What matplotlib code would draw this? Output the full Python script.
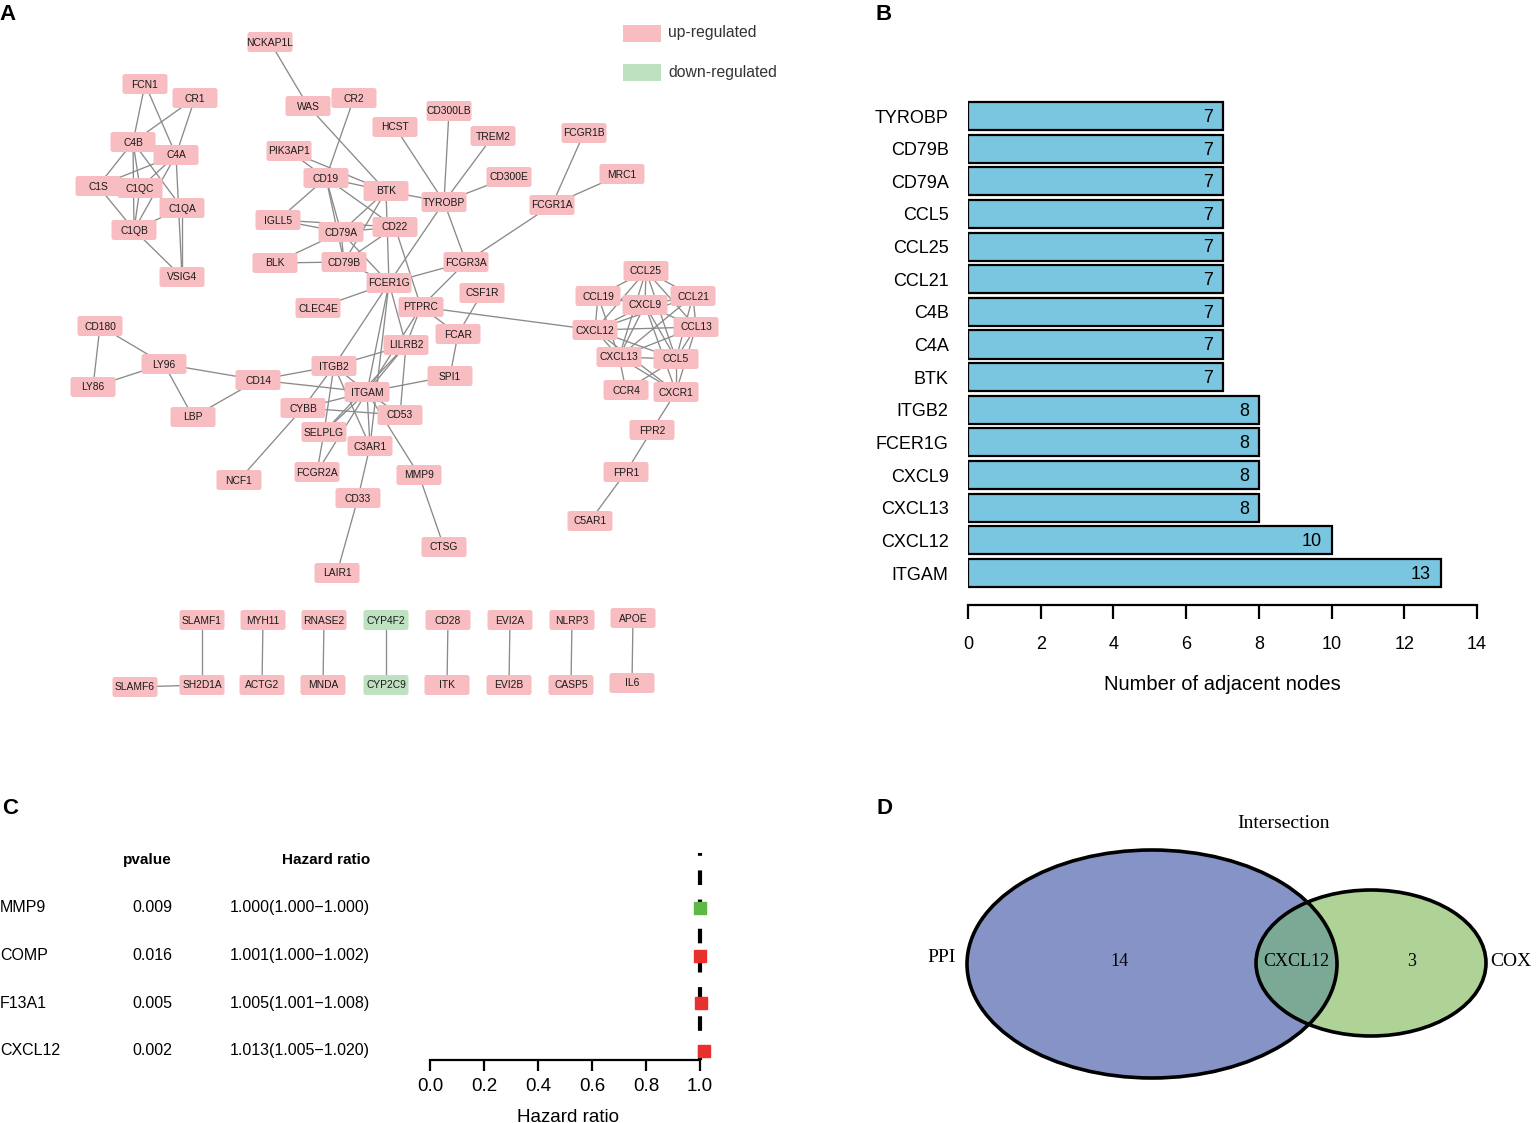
import matplotlib
matplotlib.use("Agg")
import matplotlib.pyplot as plt
import matplotlib.transforms as mtransforms
from matplotlib.patches import FancyBboxPatch, Ellipse, Rectangle
from matplotlib.collections import LineCollection

plt.rcParams['font.family'] = ['Liberation Sans', 'DejaVu Sans']

# ── Panel A: network (node centres, in pixels) ──
nodes = {
    'NCKAP1L': (270, 42), 'WAS': (308, 106), 'CR2': (354, 98),
    'FCN1': (145, 84), 'CR1': (195, 98), 'C4B': (133, 142), 'C4A': (176, 155),
    'C1S': (98, 186), 'C1QC': (140, 188), 'C1QA': (182, 208), 'C1QB': (134, 230),
    'VSIG4': (182, 277), 'HCST': (395, 127), 'CD300LB': (449, 111),
    'TREM2': (493, 136), 'PIK3AP1': (289, 151), 'CD19': (326, 178),
    'BTK': (386, 191), 'TYROBP': (444, 202), 'CD300E': (509, 177),
    'FCGR1B': (584, 133), 'MRC1': (622, 174), 'FCGR1A': (552, 205),
    'IGLL5': (278, 220), 'CD79A': (341, 232), 'CD22': (395, 227),
    'BLK': (275, 263), 'CD79B': (344, 262), 'FCGR3A': (466, 262),
    'FCER1G': (389, 283), 'CSF1R': (482, 293), 'CLEC4E': (318, 308),
    'PTPRC': (421, 307), 'FCAR': (458, 334), 'CD180': (100, 326),
    'LY96': (164, 364), 'LY86': (93, 387), 'LBP': (193, 417), 'CD14': (258, 380),
    'ITGB2': (334, 366), 'LILRB2': (406, 345), 'SPI1': (450, 376),
    'ITGAM': (367, 392), 'CYBB': (303, 408), 'CD53': (400, 415),
    'SELPLG': (324, 432), 'C3AR1': (370, 446), 'FCGR2A': (317, 472),
    'NCF1': (239, 480), 'MMP9': (419, 475), 'CD33': (358, 498),
    'CTSG': (444, 547), 'LAIR1': (337, 573),
    'CCL25': (646, 271), 'CCL19': (598, 296), 'CXCL9': (645, 305),
    'CCL21': (693, 296), 'CXCL12': (595, 330), 'CCL13': (696, 327),
    'CXCL13': (619, 357), 'CCL5': (676, 359), 'CCR4': (626, 390),
    'CXCR1': (676, 392), 'FPR2': (652, 430), 'FPR1': (626, 472),
    'C5AR1': (590, 521),
    'SLAMF1': (202, 620), 'SH2D1A': (202, 685), 'SLAMF6': (135, 687),
    'MYH11': (263, 620), 'ACTG2': (262, 685), 'RNASE2': (324, 620),
    'MNDA': (323, 685), 'CYP4F2': (386, 620), 'CYP2C9': (386, 685),
    'CD28': (448, 620), 'ITK': (447, 685), 'EVI2A': (510, 620),
    'EVI2B': (509, 685), 'NLRP3': (572, 620), 'CASP5': (571, 685),
    'APOE': (633, 618), 'IL6': (632, 683),
}
down_genes = ['CYP4F2', 'CYP2C9']

edges = [
    ('FCN1', 'C4B'), ('FCN1', 'C4A'), ('CR1', 'C4B'), ('CR1', 'C4A'),
    ('C4B', 'C1S'), ('C4B', 'C1QC'), ('C4B', 'C1QB'), ('C4B', 'C1QA'),
    ('C4A', 'C1S'), ('C4A', 'C1QC'), ('C4A', 'C1QB'), ('C4A', 'VSIG4'),
    ('C1S', 'C1QB'), ('C1QC', 'C1QA'), ('C1QC', 'C1QB'), ('C1QA', 'C1QB'),
    ('C1QB', 'VSIG4'), ('C1QA', 'VSIG4'),
    ('NCKAP1L', 'WAS'), ('WAS', 'BTK'), ('CR2', 'CD19'), ('PIK3AP1', 'CD19'),
    ('PIK3AP1', 'BTK'), ('CD19', 'BTK'), ('CD19', 'IGLL5'), ('CD19', 'CD79A'),
    ('CD19', 'CD79B'), ('CD19', 'CD22'), ('HCST', 'TYROBP'),
    ('CD300LB', 'TYROBP'), ('TREM2', 'TYROBP'), ('CD300E', 'TYROBP'),
    ('BTK', 'TYROBP'), ('BTK', 'CD79A'), ('BTK', 'CD79B'), ('BTK', 'FCER1G'),
    ('TYROBP', 'FCER1G'), ('TYROBP', 'FCGR3A'), ('FCGR1B', 'FCGR1A'),
    ('MRC1', 'FCGR1A'), ('FCGR1A', 'FCGR3A'), ('IGLL5', 'CD79A'),
    ('IGLL5', 'CD22'), ('BLK', 'CD79B'), ('BLK', 'CD79A'), ('CD79A', 'CD22'),
    ('CD79A', 'CD79B'), ('CD79B', 'CD22'), ('CD79A', 'FCER1G'),
    ('CD79B', 'FCER1G'), ('CD22', 'PTPRC'), ('FCGR3A', 'FCER1G'),
    ('FCGR3A', 'PTPRC'), ('CSF1R', 'FCAR'), ('CLEC4E', 'FCER1G'),
    ('PTPRC', 'CXCL12'), ('PTPRC', 'FCAR'), ('PTPRC', 'LILRB2'),
    ('PTPRC', 'ITGAM'), ('FCER1G', 'ITGB2'), ('FCER1G', 'ITGAM'),
    ('FCER1G', 'LILRB2'), ('FCER1G', 'C3AR1'), ('FCAR', 'SPI1'),
    ('LILRB2', 'ITGB2'), ('LILRB2', 'ITGAM'), ('LILRB2', 'CD53'),
    ('LILRB2', 'SELPLG'), ('ITGB2', 'CD14'), ('ITGB2', 'ITGAM'),
    ('ITGB2', 'CYBB'), ('ITGB2', 'SELPLG'), ('ITGB2', 'C3AR1'),
    ('CD14', 'ITGAM'), ('CD14', 'LY96'), ('CD14', 'LBP'), ('LY96', 'CD180'),
    ('LY96', 'LY86'), ('LY96', 'LBP'), ('CD180', 'LY86'), ('ITGAM', 'SPI1'),
    ('ITGAM', 'CYBB'), ('ITGAM', 'CD53'), ('ITGAM', 'SELPLG'),
    ('ITGAM', 'C3AR1'), ('ITGAM', 'FCGR2A'), ('ITGAM', 'MMP9'),
    ('CYBB', 'CD53'), ('CYBB', 'NCF1'), ('C3AR1', 'CD33'), ('CD33', 'LAIR1'),
    ('MMP9', 'CTSG'), ('SELPLG', 'FCGR2A'),
    ('CCL25', 'CCL19'), ('CCL25', 'CXCL9'), ('CCL25', 'CCL21'),
    ('CCL25', 'CXCL12'), ('CCL25', 'CCL13'), ('CCL25', 'CXCL13'),
    ('CCL25', 'CCL5'), ('CCL19', 'CXCL9'), ('CCL19', 'CXCL12'),
    ('CCL19', 'CXCL13'), ('CXCL9', 'CCL21'), ('CXCL9', 'CXCL12'),
    ('CXCL9', 'CCL13'), ('CXCL9', 'CXCL13'), ('CXCL9', 'CCL5'),
    ('CXCL9', 'CXCR1'), ('CCL21', 'CXCL12'), ('CCL21', 'CCL13'),
    ('CCL21', 'CXCL13'), ('CCL21', 'CCL5'), ('CXCL12', 'CCL13'),
    ('CXCL12', 'CXCL13'), ('CXCL12', 'CCL5'), ('CXCL12', 'CXCR1'),
    ('CXCL13', 'CCL5'), ('CXCL13', 'CCR4'), ('CXCL13', 'CXCR1'),
    ('CCL5', 'CCR4'), ('CCL5', 'CXCR1'), ('CCL13', 'CCL5'),
    ('CCL13', 'CXCR1'), ('CCL13', 'CXCL13'),
    ('CXCR1', 'FPR2'), ('FPR2', 'FPR1'), ('FPR1', 'C5AR1'),
    ('SLAMF1', 'SH2D1A'), ('SLAMF6', 'SH2D1A'), ('MYH11', 'ACTG2'),
    ('RNASE2', 'MNDA'), ('CYP4F2', 'CYP2C9'), ('CD28', 'ITK'),
    ('EVI2A', 'EVI2B'), ('NLRP3', 'CASP5'), ('APOE', 'IL6'),
]

# ── Panel B: degree bar chart (bottom -> top) ──
hub_genes = ['ITGAM', 'CXCL12', 'CXCL13', 'CXCL9', 'FCER1G', 'ITGB2', 'BTK',
             'C4A', 'C4B', 'CCL21', 'CCL25', 'CCL5', 'CD79A', 'CD79B', 'TYROBP']
hub_degree = [13, 10, 8, 8, 8, 8, 7, 7, 7, 7, 7, 7, 7, 7, 7]

# ── Panel C: Cox forest plot (top -> bottom) ──
cox_genes = ['MMP9', 'COMP', 'F13A1', 'CXCL12']
cox_p = ['0.009', '0.016', '0.005', '0.002']
cox_hr = [1.000, 1.001, 1.005, 1.013]
cox_lo = [1.000, 1.000, 1.001, 1.005]
cox_hi = [1.000, 1.002, 1.008, 1.020]
cox_label = ['1.000(1.000\u22121.000)', '1.001(1.000\u22121.002)',
             '1.005(1.001\u22121.008)', '1.013(1.005\u22121.020)']

# ── Panel D: Venn ──
venn_sets = ['PPI', 'COX']
venn_only = [14, 3]
venn_common = 'CXCL12'

PINK = '#F8BDC1'
GREEN = '#BEE2BF'
W, H = 1536, 1123

fig = plt.figure(figsize=(W / 100, H / 100), dpi=100)
fig.patch.set_facecolor('white')

# background axes in pixel coordinates
ax0 = fig.add_axes([0, 0, 1, 1])
ax0.set_xlim(0, W)
ax0.set_ylim(H, 0)
ax0.axis('off')

segs = [[nodes[a], nodes[b]] for a, b in edges]
ax0.add_collection(LineCollection(segs, colors='#8a8a8a', linewidths=0.95, zorder=1))

bw, bh = 42, 17
for name, (x, y) in nodes.items():
    fc = GREEN if name in down_genes else PINK
    ax0.add_patch(FancyBboxPatch((x - bw / 2, y - bh / 2), bw, bh,
                                 boxstyle='round,pad=1.5,rounding_size=2.5',
                                 fc=fc, ec='none', zorder=2))
    ax0.text(x, y + 0.5, name, ha='center', va='center', fontsize=7.4,
             color='#1a1a1a', zorder=3)

# legend
for i, (lab, c) in enumerate([('up-regulated', PINK), ('down-regulated', GREEN)]):
    yy = 33 + 39 * i
    ax0.add_patch(Rectangle((623, yy - 8.5), 38, 17, fc=c, ec='none'))
    ax0.text(668, yy, lab, ha='left', va='center', fontsize=11.3, color='#333333')

# panel letters
for lab, x, y in [('A', 8, 15), ('B', 884, 15), ('C', 10, 808), ('D', 884, 808)]:
    ax0.text(x, y, lab, ha='center', va='center', fontsize=16, fontweight='bold')

# ── Panel B ──
axb = fig.add_axes([968 / W, (H - 605) / H, 509 / W, (605 - 99.7) / H])
ypos = list(range(len(hub_genes)))
axb.barh(ypos, hub_degree, height=0.86, color='#7AC5DF', edgecolor='black',
         linewidth=1.6)
for yv, v in zip(ypos, hub_degree):
    axb.annotate(str(v), (v, yv), xytext=(-7, -1), textcoords='offset points',
                 ha='right', va='center', fontsize=13)
axb.set_yticks(ypos)
axb.set_yticklabels(hub_genes, fontsize=13)
axb.tick_params(axis='y', length=0, pad=14)
axb.set_xlim(0, 14)
axb.set_ylim(-0.98, 14.5)
axb.set_xticks(range(0, 15, 2))
axb.tick_params(axis='x', labelsize=13, length=10, width=1.6, direction='out', pad=12)
for s in ['top', 'right', 'left']:
    axb.spines[s].set_visible(False)
axb.spines['bottom'].set_linewidth(1.6)
axb.set_xlabel('Number of adjacent nodes', fontsize=14.5, labelpad=16)

# ── Panel C ──
NARROW = ['Liberation Sans Narrow', 'Liberation Sans', 'DejaVu Sans']
axc = fig.add_axes([430 / W, (H - 1060) / H, 275.4 / W, 207 / H])
rows = [4, 3, 2, 1]
axc.set_xlim(0, 1.02)
axc.set_ylim(0.81, 5.15)
axc.axvline(1.0, color='black', lw=3, ls=(0, (3.5, 3.5)), zorder=1)
for r, hr, lo, hi in zip(rows, cox_hr, cox_lo, cox_hi):
    axc.plot([lo, hi], [r, r], color='#1f2f8f', lw=2.5, clip_on=False, zorder=2)
    col = '#5DB847' if hr <= 1.0 else '#E8312F'
    axc.plot(hr, r, marker='s', ms=8.5, color=col, mec=col, clip_on=False, zorder=3)
axc.set_yticks([])
axc.set_xticks([0.0, 0.2, 0.4, 0.6, 0.8, 1.0])
axc.set_xticklabels(['0.0', '0.2', '0.4', '0.6', '0.8', '1.0'], family=NARROW, fontsize=13.5)
axc.tick_params(axis='x', length=8, width=1.6, pad=5)
for s in ['top', 'right', 'left']:
    axc.spines[s].set_visible(False)
axc.spines['bottom'].set_bounds(0, 1.0)
axc.spines['bottom'].set_linewidth(1.6)
axc.set_xlabel('Hazard ratio', family=NARROW, fontsize=13.5, labelpad=10)
axc.patch.set_alpha(0)

tr = mtransforms.blended_transform_factory(ax0.transData, axc.transData)
ax0.text(172, 5, 'pvalue', transform=tr, ha='right', va='center', fontsize=11,
         fontweight='bold', family=NARROW)
ax0.text(370, 5, 'Hazard ratio', transform=tr, ha='right', va='center', fontsize=11,
         fontweight='bold', family=NARROW)
for r, g, p, lab in zip(rows, cox_genes, cox_p, cox_label):
    ax0.text(0, r, g, transform=tr, ha='left', va='center', fontsize=11.5, family=NARROW)
    ax0.text(172, r, p, transform=tr, ha='right', va='center', fontsize=11.5, family=NARROW)
    ax0.text(370, r, lab, transform=tr, ha='right', va='center', fontsize=11.5, family=NARROW)

# ── Panel D ──
SERIF = ['Liberation Serif', 'DejaVu Serif']
ppi = Ellipse((1152, 964), 370, 228, fc='#8593C7', ec='none', zorder=1)
cox = Ellipse((1371, 963), 230, 146, fc='#AFD396', ec='none', zorder=1)
ax0.add_patch(ppi)
ax0.add_patch(cox)
inter = Ellipse((1371, 963), 230, 146, fc='#7BA996', ec='none', zorder=2)
ax0.add_patch(inter)
inter.set_clip_path(ppi)
for e in [Ellipse((1152, 964), 370, 228), Ellipse((1371, 963), 230, 146)]:
    e.set_facecolor('none')
    e.set_edgecolor('black')
    e.set_linewidth(2.6)
    e.set_zorder(3)
    ax0.add_patch(e)
ax0.text(1284, 823, 'Intersection', ha='center', va='center', fontsize=14, family=SERIF)
ax0.text(942, 958, venn_sets[0], ha='center', va='center', fontsize=14, family=SERIF)
ax0.text(1490, 961, venn_sets[1], ha='left', va='center', fontsize=14, family=SERIF)
ax0.text(1119, 962, str(venn_only[0]), ha='center', va='center', fontsize=13, family=SERIF)
ax0.text(1412, 962, str(venn_only[1]), ha='center', va='center', fontsize=13, family=SERIF)
ax0.text(1296, 962, venn_common, ha='center', va='center', fontsize=13,
         family=SERIF, zorder=4)

fig.savefig('out.png', dpi=100)
